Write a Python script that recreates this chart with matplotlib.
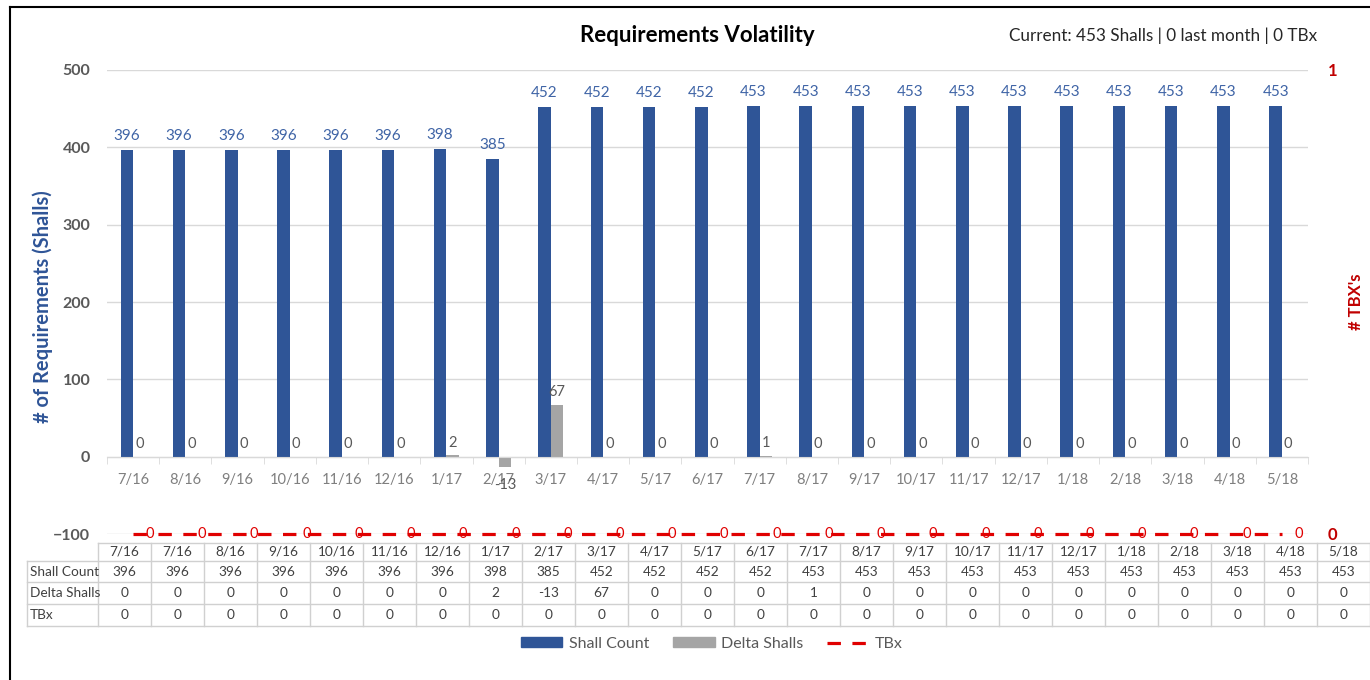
import matplotlib
matplotlib.use("Agg")
import matplotlib.pyplot as plt
from matplotlib.lines import Line2D
from matplotlib.patches import Patch
import numpy as np

plt.rcParams['font.family'] = ['Lato', 'DejaVu Sans']

# ---------------- data ----------------
months = ["7/16", "8/16", "9/16", "10/16", "11/16", "12/16", "1/17", "2/17",
          "3/17", "4/17", "5/17", "6/17", "7/17", "8/17", "9/17", "10/17",
          "11/17", "12/17", "1/18", "2/18", "3/18", "4/18", "5/18"]
shall_count = [396, 396, 396, 396, 396, 396, 398, 385, 452, 452, 452, 452,
               453, 453, 453, 453, 453, 453, 453, 453, 453, 453, 453]
delta_shalls = [0, 0, 0, 0, 0, 0, 2, -13, 67, 0, 0, 0, 1, 0, 0, 0, 0, 0, 0,
                0, 0, 0, 0]
tbx = [0] * 23

# data table under the chart (has an extra leading 7/16 column)
table_months = ["7/16"] + months
table_shall = [396] + shall_count
table_delta = [0] + delta_shalls
table_tbx = [0] + tbx
table_rows = ["Shall Count", "Delta Shalls", "TBx"]

title = "Requirements Volatility"
subtitle = "Current: 453 Shalls | 0 last month | 0 TBx"

# ---------------- style ----------------
BLUE = "#2F5597"
LBLUE = "#3F64A6"
GREY = "#A5A5A5"
RED = "#E00000"
DRED = "#C00000"
GRID = "#D9D9D9"
TXT = "#595959"

W, H = 1370, 680
fig = plt.figure(figsize=(W / 100, H / 100), dpi=100)


def fx(x):
    return x / W


def fy(y):
    return 1 - y / H


# main axes: left 107px, right 1308px, y(500)=70px, y(-100)=534px
ax = fig.add_axes([fx(107), fy(534), fx(1308) - fx(107), fy(70) - fy(534)])
x = np.arange(len(months))
bw = 0.24
ax.bar(x - bw / 2, shall_count, width=bw, color=BLUE, zorder=3)
ax.bar(x + bw / 2, delta_shalls, width=bw, color=GREY, zorder=3)

ax.set_xlim(-0.5, len(months) - 0.5)
ax.set_ylim(-100, 500)
ax.set_yticks([-100, 0, 100, 200, 300, 400, 500])
ax.grid(axis='y', color=GRID, lw=1, zorder=0)
ax.set_axisbelow(True)
for s in ['top', 'right', 'left']:
    ax.spines[s].set_visible(False)
ax.spines['bottom'].set_position(('data', 0))
ax.spines['bottom'].set_color(GRID)
ax.spines['bottom'].set_zorder(4)
ax.set_xticks(x)
ax.set_xticklabels(months, color="#7F7F7F", fontsize=10.5)
ax.tick_params(axis='x', which='major', length=0, pad=12)
ax.set_xticks(np.arange(-0.5, len(months)), minor=True)
ax.tick_params(axis='x', which='minor', length=5, color=GRID, direction='out')
ax.tick_params(axis='y', length=0, pad=12, labelcolor=TXT, labelsize=11.5)
for lab in ax.get_yticklabels():
    lab.set_fontweight('bold')
ax.set_ylabel("# of Requirements (Shalls)", color=BLUE, fontweight='bold',
              fontsize=14.5)
ax.yaxis.set_label_coords((53 - 107) / 1201, 0.49)

# value labels
for xi, v in zip(x, shall_count):
    ax.annotate(str(v), (xi - bw / 2, v), xytext=(0, 5), textcoords='offset points',
                ha='center', va='bottom', color=LBLUE, fontsize=11)
for xi, v in zip(x, delta_shalls):
    if v >= 0:
        ax.annotate(str(v), (xi + bw / 2, v), xytext=(0, 4), textcoords='offset points',
                    ha='center', va='bottom', color=TXT, fontsize=10.5)
    else:
        ax.annotate(str(v), (xi + bw / 2, v), xytext=(0, -8), textcoords='offset points',
                    ha='center', va='top', color=TXT, fontsize=10.5)

# secondary axis: TBx
ax2 = ax.twinx()
ax2.set_ylim(0, 1)
ax2.set_yticks([0, 1])
ax2.tick_params(axis='y', length=0, pad=14, labelcolor=DRED, labelsize=12)
for lab in ax2.get_yticklabels():
    lab.set_fontweight('bold')
for s in ax2.spines.values():
    s.set_visible(False)
ax2.plot(x, tbx, color=RED, lw=2.3, dashes=(4.2, 3.6), zorder=5, clip_on=False)
for xi, v in zip(x, tbx):
    ax2.annotate(str(v), (xi, v), xytext=(12, 0), textcoords='offset points',
                 ha='center', va='center', color=RED, fontsize=10.5, zorder=6)
ax2.set_ylabel("# TBX's", color=DRED, fontweight='bold', fontsize=12, labelpad=8)

# title / subtitle
fig.text(fx(697), fy(36), title, ha='center', va='center', fontsize=16,
         fontweight='bold', color='black')
fig.text(fx(1317), fy(36), subtitle, ha='right', va='center', fontsize=12.3,
         color='#262626')

# ---------------- data table (pixel overlay axes) ----------------
ov = fig.add_axes([0, 0, 1, 1], zorder=-1)
ov.set_xlim(0, W)
ov.set_ylim(H, 0)
ov.axis('off')

col0, lab_x0 = 98, 27
cw = (W - col0) / len(table_months)
row_y = [543, 561, 582, 604, 626]
TL = "#D0D0D0"
ncol = len(table_months)
# horizontal lines
ov.plot([col0, col0 + ncol * cw], [row_y[0]] * 2, color=TL, lw=1)
for yy in row_y[1:]:
    ov.plot([lab_x0, col0 + ncol * cw], [yy] * 2, color=TL, lw=1)
# vertical lines
ov.plot([lab_x0, lab_x0], [row_y[1], row_y[-1]], color=TL, lw=1)
for i in range(ncol + 1):
    xx = col0 + i * cw
    ov.plot([xx, xx], [row_y[0], row_y[-1]], color=TL, lw=1)

tfs = 9.8
for i, m in enumerate(table_months):
    cx = col0 + (i + 0.5) * cw
    ov.text(cx, (row_y[0] + row_y[1]) / 2, m, ha='center', va='center',
            fontsize=tfs, color='#404040')
    for r, vals in enumerate([table_shall, table_delta, table_tbx]):
        ov.text(cx, (row_y[r + 1] + row_y[r + 2]) / 2, str(vals[i]), ha='center',
                va='center', fontsize=tfs, color='#404040')
for r, name in enumerate(table_rows):
    ov.text(lab_x0 + 3, (row_y[r + 1] + row_y[r + 2]) / 2, name, ha='left',
            va='center', fontsize=tfs, color='#404040')

# screenshot frame (top and left edges)
ov.plot([10, W], [7, 7], color='black', lw=1.5)
ov.plot([10, 10], [7, H], color='black', lw=1.5)

# ---------------- legend ----------------
handles = [Patch(facecolor=BLUE, edgecolor=BLUE),
           Patch(facecolor=GREY, edgecolor=GREY),
           Line2D([0], [0], color=RED, lw=2.3, dashes=(4.2, 3.6))]
leg = fig.legend(handles, ["Shall Count", "Delta Shalls", "TBx"], loc='center',
                 bbox_to_anchor=(fx(712), fy(644)), ncol=3, frameon=False,
                 fontsize=11.5, handlelength=2.6, handleheight=0.6,
                 columnspacing=1.5, handletextpad=0.4, labelcolor=TXT)

fig.savefig("out.png", dpi=100)
